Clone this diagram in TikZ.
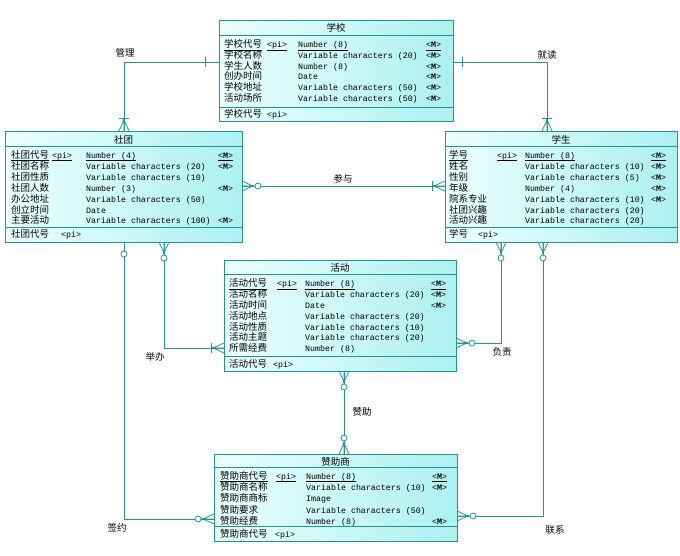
\documentclass[tikz,border=0pt]{standalone}
\usepackage{fontspec}
\newfontfamily\zhfont{Noto Sans CJK SC}
\newfontfamily\monof{Liberation Mono}
\definecolor{bord}{RGB}{35,148,148}
\definecolor{fillL}{RGB}{236,255,255}
\definecolor{fillR}{RGB}{172,240,240}
\newcommand\ul[1]{\underline{\smash{#1}\rule[-0.6pt]{0pt}{0pt}}}
\newcommand\MM{<\textbf{M}>}
\newcommand\cellnode[4]{\if\relax\detokenize{#4}\relax\else\node[#1] (#2) at (#3) {#4};\fi}
\newcommand\erow[6]{%
 \cellnode{attrcjk}{#1-n}{\cA,#2}{#3}%
 \cellnode{attrtxt}{#1-p}{\cB,#2}{#4}%
 \cellnode{attrtxt}{#1-t}{\cC,#2}{#5}%
 \cellnode{attrtxt}{#1-m}{\cD,#2}{#6}}
\tikzset{
 conn/.style={draw=bord, line width=0.8pt},
 tablebox/.style={draw=bord, line width=0.9pt, left color=fillL, right color=fillR, inner sep=0pt, anchor=north west},
 sepline/.style={draw=bord, line width=0.8pt},
 attrcjk/.style={anchor=base west, inner sep=0pt, font=\zhfont\fontsize{9.5}{10}\selectfont},
 attrtxt/.style={anchor=base west, inner sep=0pt, font=\monof\fontsize{8.3}{9}\selectfont},
 ttl/.style={anchor=base, inner sep=0pt, font=\zhfont\fontsize{9.5}{10}\selectfont},
 lbl/.style={anchor=center, inner sep=0pt, font=\zhfont\fontsize{9.5}{10}\selectfont},
 crow/.pic={\draw[conn] (0,-5) -- (11,0) -- (0,5) (0,0) -- (11,0); \fill[bord] (11,0) circle[radius=1.4];},
 onebar/.pic={\draw[conn] (#1,-5) -- (#1,5);},
 zero/.pic={\draw[conn, fill=white] (#1,0) circle[radius=3];}
}
\begin{document}
\begin{tikzpicture}[x=1pt,y=-1pt]
\fill[white] (0,0) rectangle (680,555);
\useasboundingbox (0,0) rectangle (680,555);

% tables
\node[tablebox, minimum width=234pt, minimum height=101pt] (school) at (219,20) {};
\node[tablebox, minimum width=237pt, minimum height=111pt] (club) at (5,131) {};
\node[tablebox, minimum width=232pt, minimum height=111pt] (student) at (445,131) {};
\node[tablebox, minimum width=232pt, minimum height=111pt] (activity) at (224,260) {};
\node[tablebox, minimum width=243pt, minimum height=87pt] (sponsor) at (214,454) {};

\foreach \t/\a/\b in {school/35/107, club/146/227, student/146/227, activity/274/356, sponsor/467/526}{
 \draw[sepline] (\t.west |- 0,\a) -- (\t.east |- 0,\a);
 \draw[sepline] (\t.west |- 0,\b) -- (\t.east |- 0,\b);
}

% connectors
\draw[conn] (school.west |- 0,62) -| (club.north -| 124,0);
\draw[conn] (school.east |- 0,62) -| (student.north -| 547,0);
\draw[conn] (club.east |- 0,186) -- (student.west |- 0,186);
\draw[conn] (club.south -| 164,0) |- (activity.west |- 0,348);
\draw[conn] (club.south -| 124,0) |- (sponsor.west |- 0,519);
\draw[conn] (student.south -| 501,0) |- (activity.east |- 0,343);
\draw[conn] (student.south -| 543,0) |- (sponsor.east |- 0,516);
\draw[conn] (activity.south -| 344,0) -- (sponsor.north -| 344,0);

% end symbols
\pic[rotate=180] at (219,62) {onebar=14};
\pic[rotate=90] at (124,131) {crow};
\pic[rotate=90] at (124,131) {onebar=13};
\pic at (453,62) {onebar=9};
\pic[rotate=90] at (547,131) {crow};
\pic[rotate=90] at (547,131) {onebar=13};
\pic at (242,186) {crow};
\pic at (242,186) {zero=16};
\pic[rotate=180] at (445,186) {crow};
\pic[rotate=180] at (445,186) {onebar=13};
\pic[rotate=-90] at (164,242) {crow};
\pic[rotate=-90] at (164,242) {zero=16};
\pic[rotate=180] at (224,348) {crow};
\pic[rotate=180] at (224,348) {onebar=13};
\pic[rotate=-90] at (124,242) {zero=12};
\pic[rotate=180] at (214,519) {crow};
\pic[rotate=180] at (214,519) {zero=16};
\pic[rotate=-90] at (501,242) {crow};
\pic[rotate=-90] at (501,242) {zero=16};
\pic at (456,343) {crow};
\pic at (456,343) {zero=16};
\pic[rotate=-90] at (543,242) {crow};
\pic[rotate=-90] at (543,242) {zero=16};
\pic at (457,516) {crow};
\pic at (457,516) {zero=16};
\pic[rotate=-90] at (344,371) {crow};
\pic[rotate=-90] at (344,371) {zero=16};
\pic[rotate=90] at (344,454) {crow};
\pic[rotate=90] at (344,454) {zero=16};

% relation labels
\node[lbl] (l-manage) at (125,53) {管理};
\node[lbl] (l-study) at (547,55) {就读};
\node[lbl] (l-join) at (343,179) {参与};
\node[lbl] (l-hold) at (155,357) {举办};
\node[lbl] (l-sign) at (117,528) {签约};
\node[lbl] (l-resp) at (502,352) {负责};
\node[lbl] (l-contact) at (555,530) {联系};
\node[lbl] (l-fund) at (362,412) {赞助};

% school
\node[ttl] (school-title) at (336,31) {学校};
\def\cA{224}\def\cB{267}\def\cC{298}\def\cD{426}
\erow{school-1}{47.8}{\ul{学校代号}}{\ul{<pi>}}{\ul{Number (8)}}{\ul{\MM}}
\erow{school-2}{58.5}{学校名称}{}{Variable characters (20)}{\MM}
\erow{school-3}{69.2}{学生人数}{}{Number (8)}{\MM}
\erow{school-4}{79.9}{创办时间}{}{Date}{\MM}
\erow{school-5}{90.6}{学校地址}{}{Variable characters (50)}{\MM}
\erow{school-6}{101.3}{活动场所}{}{Variable characters (50)}{\MM}
\node[attrcjk] (school-key) at (224,117.5) {学校代号};
\node[attrtxt] (school-keypi) at (267,117.5) {<pi>};

% club
\node[ttl] (club-title) at (123.5,143.5) {社团};
\def\cA{11}\def\cB{52}\def\cC{86}\def\cD{218}
\erow{club-1}{158.5}{\ul{社团代号}}{\ul{<pi>}}{\ul{Number (4)}}{\ul{\MM}}
\erow{club-2}{169.4}{社团名称}{}{Variable characters (20)}{\MM}
\erow{club-3}{180.3}{社团性质}{}{Variable characters (10)}{}
\erow{club-4}{191.2}{社团人数}{}{Number (3)}{\MM}
\erow{club-5}{202.1}{办公地址}{}{Variable characters (50)}{}
\erow{club-6}{213.0}{创立时间}{}{Date}{}
\erow{club-7}{223.9}{主要活动}{}{Variable characters (100)}{\MM}
\node[attrcjk] (club-key) at (11,237) {社团代号};
\node[attrtxt] (club-keypi) at (61,237) {<pi>};

% student
\node[ttl] (student-title) at (561,143.5) {学生};
\def\cA{449}\def\cB{497}\def\cC{525}\def\cD{651}
\erow{student-1}{158.5}{\ul{学号}}{\ul{<pi>}}{\ul{Number (8)}}{\ul{\MM}}
\erow{student-2}{169.4}{姓名}{}{Variable characters (10)}{\MM}
\erow{student-3}{180.3}{性别}{}{Variable characters (5)}{\MM}
\erow{student-4}{191.2}{年级}{}{Number (4)}{\MM}
\erow{student-5}{202.1}{院系专业}{}{Variable characters (10)}{\MM}
\erow{student-6}{213.0}{社团兴趣}{}{Variable characters (20)}{}
\erow{student-7}{223.9}{活动兴趣}{}{Variable characters (20)}{}
\node[attrcjk] (student-key) at (449,237) {学号};
\node[attrtxt] (student-keypi) at (478,237) {<pi>};

% activity
\node[ttl] (activity-title) at (340,271.5) {活动};
\def\cA{229}\def\cB{277}\def\cC{305}\def\cD{431}
\erow{act-1}{286.8}{\ul{活动代号}}{\ul{<pi>}}{\ul{Number (8)}}{\ul{\MM}}
\erow{act-2}{297.6}{活动名称}{}{Variable characters (20)}{\MM}
\erow{act-3}{308.4}{活动时间}{}{Date}{\MM}
\erow{act-4}{319.2}{活动地点}{}{Variable characters (20)}{}
\erow{act-5}{330.0}{活动性质}{}{Variable characters (10)}{}
\erow{act-6}{340.8}{活动主题}{}{Variable characters (20)}{}
\erow{act-7}{351.6}{所需经费}{}{Number (8)}{}
\node[attrcjk] (act-key) at (229,367) {活动代号};
\node[attrtxt] (act-keypi) at (273,367) {<pi>};

% sponsor
\node[ttl] (sponsor-title) at (335.5,465.8) {赞助商};
\def\cA{220}\def\cB{276}\def\cC{306}\def\cD{432}
\erow{sp-1}{479.5}{\ul{赞助商代号}}{\ul{<pi>}}{\ul{Number (8)}}{\ul{\MM}}
\erow{sp-2}{490.7}{赞助商名称}{}{Variable characters (10)}{\MM}
\erow{sp-3}{501.9}{赞助商商标}{}{Image}{}
\erow{sp-4}{513.1}{赞助要求}{}{Variable characters (50)}{}
\erow{sp-5}{524.3}{赞助经费}{}{Number (8)}{\MM}
\node[attrcjk] (sp-key) at (220,537.5) {赞助商代号};
\node[attrtxt] (sp-keypi) at (275,537.5) {<pi>};
\end{tikzpicture}
\end{document}
